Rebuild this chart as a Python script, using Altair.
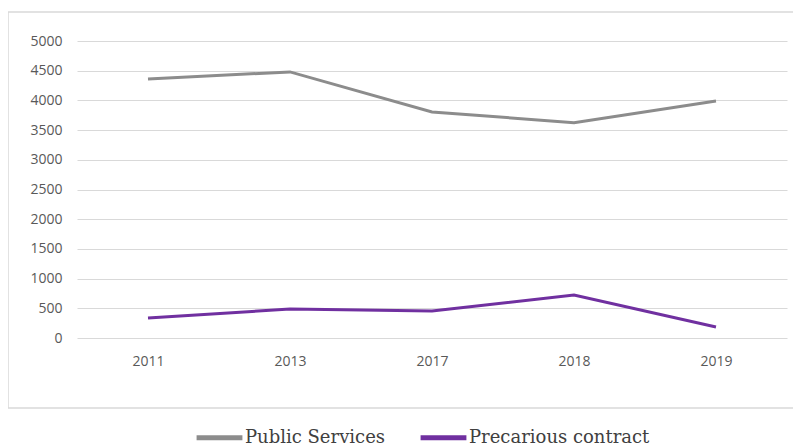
import altair as alt
import pandas as pd

years = ["2011", "2013", "2017", "2018", "2019"]
public_services = [4360, 4480, 3805, 3625, 3990]
precarious = [337, 488, 455, 724, 185]
series_names = ["Public Services", "Precarious contract"]
series_colors = ["#8c8c8c", "#7030a0"]

rows = []
for y, v in zip(years, public_services):
    rows.append({"year": y, "value": v, "series": series_names[0]})
for y, v in zip(years, precarious):
    rows.append({"year": y, "value": v, "series": series_names[1]})
df = pd.DataFrame(rows)

W, H = 710, 297

frame = alt.Chart(pd.DataFrame({"a": [0]})).mark_rect(
    fill="transparent", stroke="#d9d9d9", strokeWidth=1.5
).encode(
    x=alt.value(-69), x2=alt.value(721), y=alt.value(-29), y2=alt.value(367)
)

lines = alt.Chart(df).mark_line(strokeWidth=3).encode(
    x=alt.X("year:N", sort=years, title=None,
            scale=alt.Scale(type="point", padding=0.5),
            axis=alt.Axis(labelAngle=0, ticks=False, domain=False, grid=False,
                          labelPadding=16, labelFont="Open Sans", labelFontSize=14,
                          labelColor="#595959")),
    y=alt.Y("value:Q", title=None,
            scale=alt.Scale(domain=[0, 5000]),
            axis=alt.Axis(values=list(range(0, 5001, 500)), format="d", ticks=False,
                          domain=False, gridColor="#d9d9d9", gridWidth=1, labelPadding=15,
                          labelFont="Open Sans", labelFontSize=14, labelColor="#595959")),
    color=alt.Color("series:N", sort=series_names,
                    scale=alt.Scale(domain=series_names, range=series_colors),
                    legend=alt.Legend(title=None, orient="none", direction="horizontal",
                                      legendX=117, legendY=371,
                                      symbolType="stroke", symbolStrokeWidth=5,
                                      symbolSize=2100, labelFont="DejaVu Serif",
                                      labelFontSize=18, labelColor="#404040",
                                      labelOffset=0, labelLimit=400, columnPadding=24)),
    detail="series:N",
)

chart = alt.layer(frame, lines).properties(
    width=W, height=H,
    autosize=alt.AutoSizeParams(type="none"),
    padding={"left": 69, "top": 33, "right": 6, "bottom": 108},
).configure_view(stroke=None)

chart.save("out.html", embed_options={"renderer": "svg", "actions": False})
